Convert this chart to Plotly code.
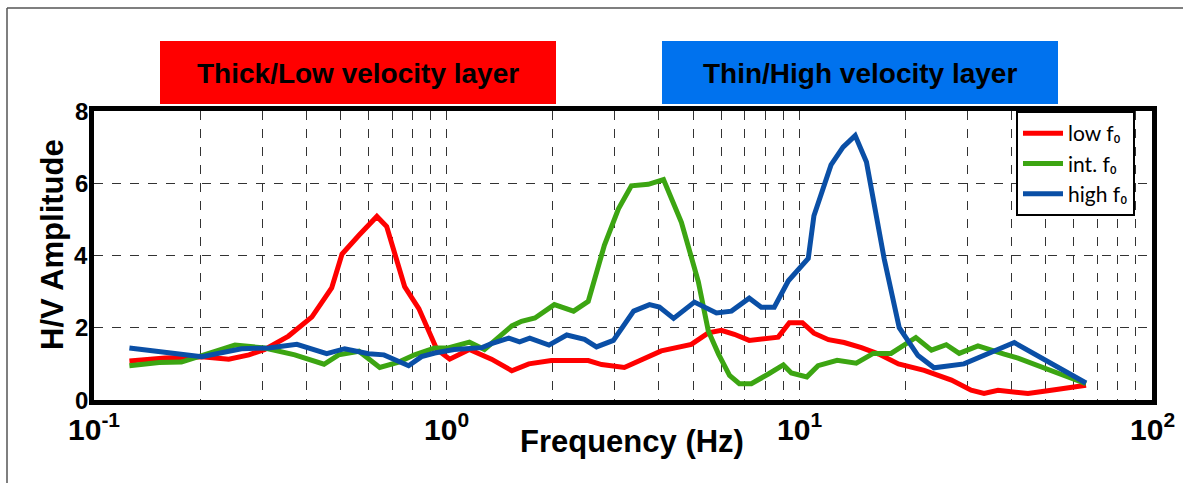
import math
import plotly.graph_objects as go

# ---- data ----
low_freq = [0.126, 0.159, 0.202, 0.241, 0.275, 0.305, 0.356, 0.415, 0.472, 0.505,
            0.564, 0.634, 0.676, 0.760, 0.834, 0.908, 0.938, 1.02, 1.16, 1.34,
            1.53, 1.71, 1.98, 2.52, 2.75, 3.19, 4.06, 4.94, 5.52, 6.01,
            6.54, 7.21, 8.71, 9.37, 10.2, 11.0, 12.1, 13.4, 15.0, 16.8,
            19.1, 22.6, 27.0, 30.7, 33.4, 36.6, 41.7, 44.5, 51.8, 65.0]
low_amp = [1.08, 1.16, 1.20, 1.13, 1.25, 1.40, 1.77, 2.30, 3.10, 4.04,
           4.56, 5.08, 4.80, 3.14, 2.53, 1.68, 1.40, 1.13, 1.40, 1.13,
           0.81, 1.00, 1.09, 1.09, 0.98, 0.90, 1.36, 1.54, 1.86, 1.93,
           1.82, 1.65, 1.74, 2.14, 2.14, 1.85, 1.67, 1.59, 1.45, 1.27,
           1.00, 0.82, 0.55, 0.27, 0.18, 0.27, 0.23, 0.18, 0.27, 0.41]

int_freq = [0.126, 0.153, 0.177, 0.202, 0.251, 0.305, 0.371, 0.449, 0.494, 0.564,
            0.646, 0.731, 0.811, 0.925, 1.01, 1.16, 1.28, 1.53, 1.63, 1.78,
            2.02, 2.29, 2.52, 2.80, 3.07, 3.34, 3.73, 4.12, 4.63, 5.17,
            5.52, 5.90, 6.34, 6.76, 7.31, 8.17, 9.01, 9.49, 10.5, 11.3,
            12.8, 14.5, 16.2, 18.2, 20.4, 21.4, 23.7, 26.1, 28.4, 32.1,
            38.1, 41.7, 65.0]
int_amp = [0.95, 1.04, 1.05, 1.23, 1.52, 1.44, 1.25, 0.99, 1.25, 1.35,
           0.90, 1.05, 1.25, 1.44, 1.44, 1.60, 1.40, 2.05, 2.18, 2.27,
           2.64, 2.46, 2.73, 4.28, 5.29, 5.93, 5.97, 6.10, 4.92, 3.28,
           1.91, 1.27, 0.68, 0.45, 0.45, 0.72, 0.97, 0.75, 0.64, 0.95,
           1.10, 1.02, 1.29, 1.29, 1.59, 1.73, 1.38, 1.53, 1.29, 1.50,
           1.27, 1.16, 0.45]

high_freq = [0.126, 0.156, 0.202, 0.262, 0.313, 0.376, 0.457, 0.514, 0.601, 0.664,
             0.780, 0.849, 0.925, 1.05, 1.26, 1.34, 1.50, 1.61, 1.72, 1.95,
             2.19, 2.46, 2.66, 2.97, 3.39, 3.76, 4.01, 4.40, 5.04, 5.82,
             6.42, 7.21, 7.80, 8.49, 9.31, 10.6, 11.0, 12.3, 13.3, 14.4,
             15.5, 17.4, 19.2, 21.7, 24.1, 29.3, 33.4, 40.7, 65.0]
high_amp = [1.44, 1.32, 1.20, 1.42, 1.44, 1.54, 1.28, 1.42, 1.28, 1.25,
            0.95, 1.20, 1.30, 1.40, 1.45, 1.56, 1.71, 1.61, 1.71, 1.52,
            1.80, 1.68, 1.47, 1.65, 2.46, 2.64, 2.57, 2.26, 2.71, 2.41,
            2.46, 2.82, 2.57, 2.57, 3.30, 3.92, 5.10, 6.51, 7.00, 7.32,
            6.59, 3.91, 2.00, 1.23, 0.89, 1.00, 1.23, 1.59, 0.47]

series_names = ["low f\u2080", "int. f\u2080", "high f\u2080"]
banner_labels = ["Thick/Low velocity layer", "Thin/High velocity layer"]

x_tickvals = [0.1, 1, 10, 100]
x_ticktext = ["10<sup>-1</sup>", "10<sup>0</sup>", "10<sup>1</sup>", "10<sup>2</sup>"]
x_minorvals = [d * k for d in [0.1, 1, 10] for k in range(2, 10)]
y_tickvals = [0, 2, 4, 6, 8]
y_ticktext = ["0", "2", "4", "6", "8"]

# ---- figure ----
W, H = 1183, 483
L, R, T, B = 94, 31, 111, 83
pw, ph = W - L - R, H - T - B


def px_x(px):
    return (px - L) / pw


def px_y(py):
    return (H - B - py) / ph


colors = ["#ff0000", "#3ca512", "#0a4fa6"]
fig = go.Figure()
for name, xs, ys, c in zip(series_names,
                           [low_freq, int_freq, high_freq],
                           [low_amp, int_amp, high_amp], colors):
    fig.add_trace(go.Scatter(x=xs, y=ys, mode="lines", name=name,
                             line=dict(color=c, width=5)))

bold = dict(family="Liberation Sans, Arial", color="black", weight="bold")
grid = dict(showgrid=True, gridcolor="#333333", griddash="dash", gridwidth=1)

fig.update_layout(
    width=W, height=H, autosize=False,
    margin=dict(l=L, r=R, t=T, b=B),
    paper_bgcolor="white", plot_bgcolor="white",
    showlegend=True,
    legend=dict(x=px_x(1016), y=px_y(111), xanchor="left", yanchor="top",
                bgcolor="white", bordercolor="black", borderwidth=2,
                font=dict(family="Lato, Noto Sans", size=21, color="black"),
                tracegroupgap=0, itemwidth=40),
    xaxis=dict(type="log", range=[-1, 2],
               tickmode="array", tickvals=x_tickvals, showticklabels=False,
               minor=dict(tickmode="array", tickvals=x_minorvals, ticks="", **grid),
               showline=True, linecolor="black", linewidth=5, mirror=True,
               ticks="", zeroline=False, **grid),
    yaxis=dict(range=[0, 8], tickmode="array", tickvals=y_tickvals, showticklabels=False,
               showline=True, linecolor="black", linewidth=5, mirror=True,
               ticks="", zeroline=False, **grid),
)

shapes = [
    # outer figure frame (top and left)
    dict(type="line", xref="paper", yref="paper", x0=px_x(7), x1=px_x(1183),
         y0=px_y(8), y1=px_y(8), line=dict(color="#555555", width=1.5)),
    dict(type="line", xref="paper", yref="paper", x0=px_x(7), x1=px_x(7),
         y0=px_y(8), y1=px_y(483), line=dict(color="#555555", width=1.5)),
    # banners
    dict(type="rect", xref="paper", yref="paper", x0=px_x(160), x1=px_x(556),
         y0=px_y(104), y1=px_y(41), fillcolor="#ff0000", line=dict(width=0), layer="above"),
    dict(type="rect", xref="paper", yref="paper", x0=px_x(662), x1=px_x(1058),
         y0=px_y(104), y1=px_y(41), fillcolor="#0072ee", line=dict(width=0), layer="above"),
]
fig.update_layout(shapes=shapes)

annots = []
for txt, x, y, size, ang in [
    (banner_labels[0], px_x(358), px_y(73), 28, 0),
    (banner_labels[1], px_x(860), px_y(73), 28, 0),
    ("Frequency (Hz)", px_x(632), px_y(441), 31, 0),
    ("H/V Amplitude", px_x(52), px_y(245), 31, -90),
]:
    annots.append(dict(text="<b>" + txt + "</b>", x=x, y=y, xref="paper", yref="paper",
                       showarrow=False, xanchor="center", yanchor="middle",
                       textangle=ang, font=dict(size=size, **bold)))

# bold tick labels (as text placed on the axis scales)
for v, t in zip(x_tickvals, x_ticktext):
    annots.append(dict(text="<b>" + t + "</b>", x=math.log10(v), xref="x",
                       y=px_y(427), yref="paper", showarrow=False,
                       xanchor="center", yanchor="middle", font=dict(size=30, **bold)))
for v, t in zip(y_tickvals, y_ticktext):
    annots.append(dict(text="<b>" + t + "</b>", y=v, yref="y",
                       x=px_x(90), xref="paper", showarrow=False,
                       xanchor="right", yanchor="middle", font=dict(size=24, **bold)))
fig.update_layout(annotations=annots)

fig.write_html("out.html")
